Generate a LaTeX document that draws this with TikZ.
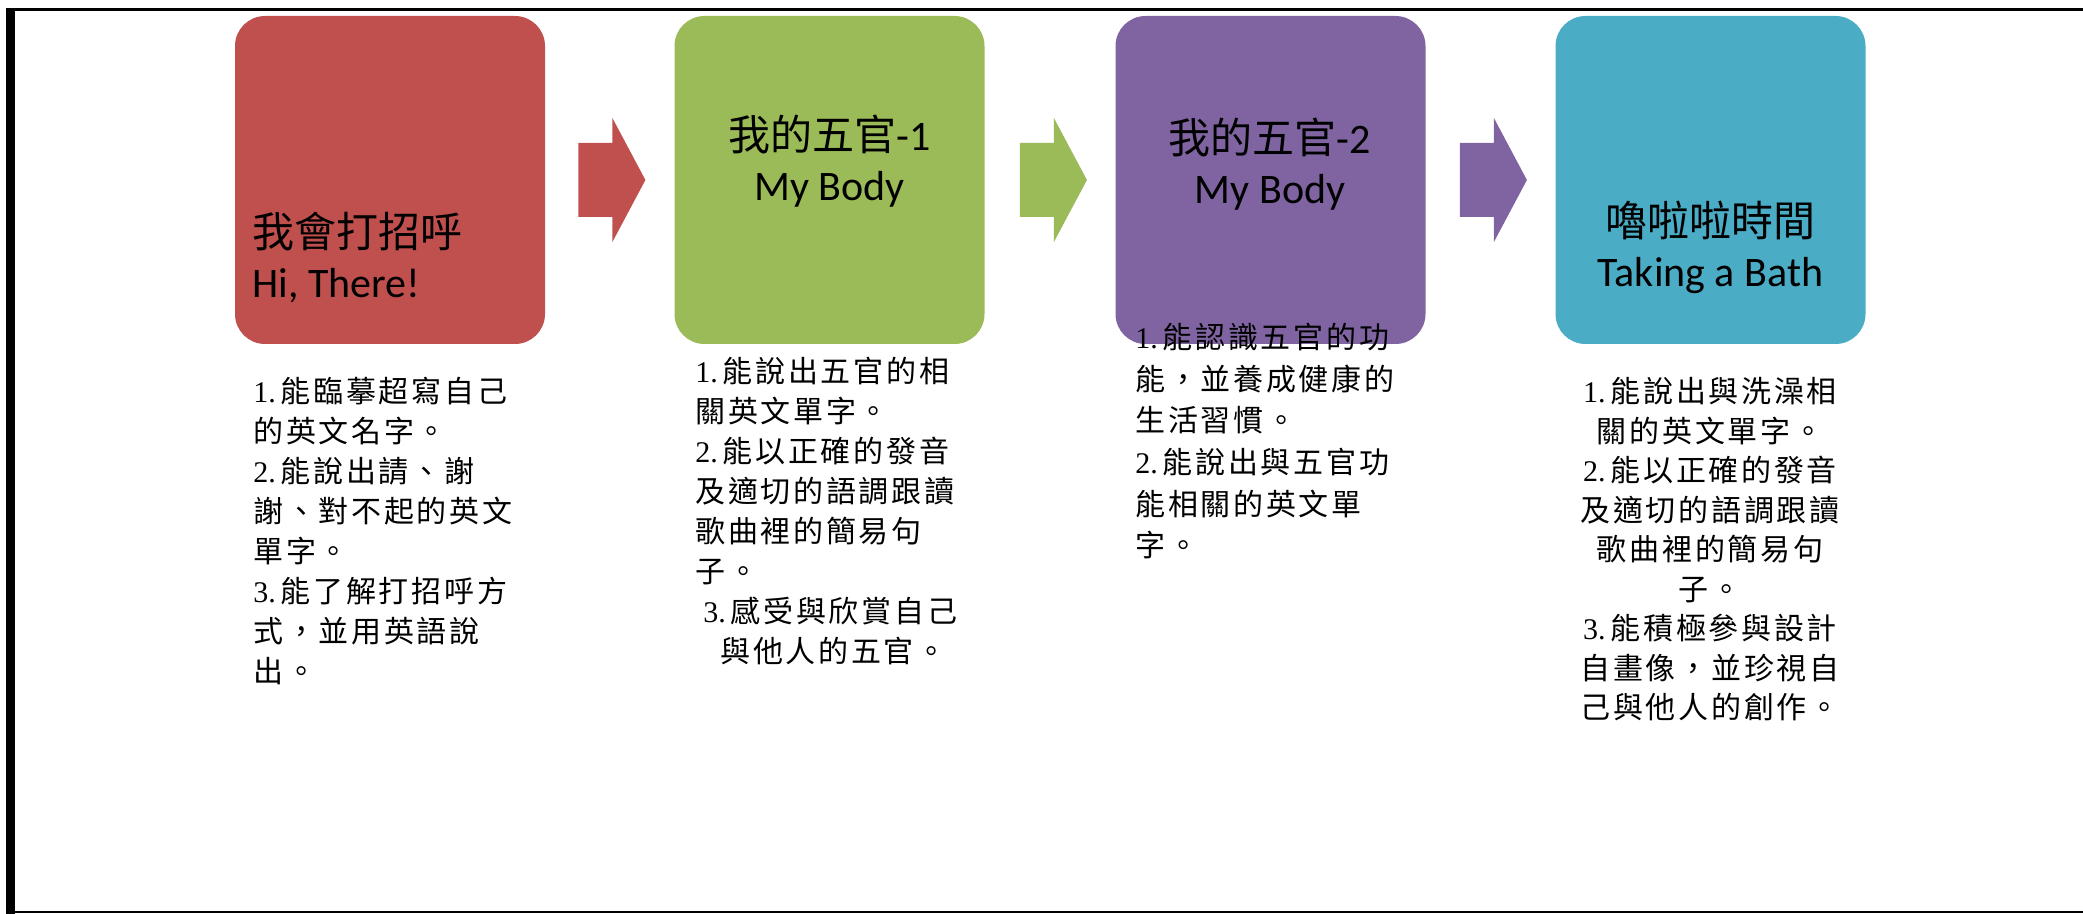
\documentclass[tikz,border=0pt]{standalone}
\usepackage{fontspec}
\setmainfont{Carlito}
\newfontfamily\cjk{Noto Sans CJK TC}
\newfontfamily\bodycjk[LetterSpace=9]{Noto Sans CJK TC}
\newfontfamily\numfont{Liberation Serif}
\newcommand\itemno[1]{{\numfont #1}\hspace{2.5pt}}
\usetikzlibrary{calc}
\definecolor{redc}{HTML}{C0504D}
\definecolor{greenc}{HTML}{9BBB59}
\definecolor{purplec}{HTML}{8064A2}
\definecolor{tealc}{HTML}{4BACC6}
\tikzset{
  stagebox/.style={rounded corners=15pt, minimum width=155pt, minimum height=164pt, inner sep=0pt},
  titletext/.style={inner sep=0pt, font=\fontsize{21}{25}\selectfont, text=black},
  bodytext/.style={inner sep=0pt, font=\bodycjk\fontsize{15}{20}\selectfont, text=black},
}
\begin{document}
\begin{tikzpicture}[x=0.5pt,y=-0.5pt]
\useasboundingbox (0,0) rectangle (2083,914);
% frame
\fill[black] (6,8) rectangle (15,914);
\draw[line width=1.5pt] (6,9.5) -- (2083,9.5);
\draw[line width=1pt] (15,912) -- (2083,912);
% boxes
\node[stagebox, fill=redc] (r) at (390,180) {};
\node[stagebox, fill=greenc] (g) at (829.5,180) {};
\node[stagebox, fill=purplec] (p) at (1270.5,180) {};
\node[stagebox, fill=tealc] (t) at (1710.5,180) {};
% block arrows
\fill[redc] ($(r.east)+(33,-37)$) -- ++(34,0) -- ++(0,-25) -- ++(33,62) -- ++(-33,62) -- ++(0,-25) -- ++(-34,0) -- cycle;
\fill[greenc] ($(g.east)+(35,-37)$) -- ++(34,0) -- ++(0,-25) -- ++(33,62) -- ++(-33,62) -- ++(0,-25) -- ++(-34,0) -- cycle;
\fill[purplec] ($(p.east)+(34,-37)$) -- ++(34,0) -- ++(0,-25) -- ++(33,62) -- ++(-33,62) -- ++(0,-25) -- ++(-34,0) -- cycle;
% titles
\node[titletext, anchor=west, align=left] (rt) at (252,257) {{\cjk 我會打招呼}\\Hi, There!};
\node[titletext, align=center] (gt) at (829.5,161) {{\cjk 我的五官}-1\\My Body};
\node[titletext, align=center] (pt) at (1270,164) {{\cjk 我的五官}-2\\My Body};
\node[titletext, align=center] (tt) at (1710.5,247) {{\cjk 嚕啦啦時間}\\Taking a Bath};
% bodies
\node[bodytext, anchor=north west, align=left] (rb) at (253,377) {%
\itemno{1.}能臨摹超寫自己\\
的英文名字。\\
\itemno{2.}能說出請、謝\\
謝、對不起的英文\\
單字。\\
\itemno{3.}能了解打招呼方\\
式，並用英語說\\
出。};
\node[bodytext, anchor=north west, align=left] (gb) at (695,357) {%
\itemno{1.}能說出五官的相\\
關英文單字。\\
\itemno{2.}能以正確的發音\\
及適切的語調跟讀\\
歌曲裡的簡易句\\
子。\\
\hspace*{4pt}\itemno{3.}感受與欣賞自己\\
\hspace*{12.5pt}與他人的五官。};
\node[bodytext, anchor=north west, align=left, font=\bodycjk\fontsize{15}{20.8}\selectfont] (pb) at (1135,323) {%
\itemno{1.}能認識五官的功\\
能，並養成健康的\\
生活習慣。\\
\itemno{2.}能說出與五官功\\
能相關的英文單\\
字。};
\node[bodytext, anchor=north, align=center, font=\bodycjk\fontsize{15}{19.75}\selectfont] (tb) at (1710,377) {%
\itemno{1.}能說出與洗澡相\\
關的英文單字。\\
\itemno{2.}能以正確的發音\\
及適切的語調跟讀\\
歌曲裡的簡易句\\
子。\\
\itemno{3.}能積極參與設計\\
自畫像，並珍視自\\
己與他人的創作。};
\end{tikzpicture}
\end{document}
